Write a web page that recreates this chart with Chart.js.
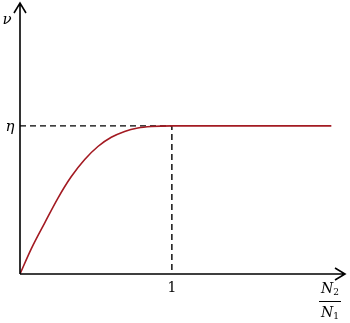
<!DOCTYPE html>
<html>
<head>
<meta charset="utf-8">
<script src="https://cdn.jsdelivr.net/npm/chart.js@4"></script>
<style>
  html, body { margin: 0; padding: 0; background: #fff; }
  #wrap { width: 350px; height: 323px; }
</style>
</head>
<body>
<div id="wrap"><canvas id="curveChart"></canvas></div>
<script>
// values (x in units of N2/N1, y in units of eta)
const curveX = [0, 0.074, 0.163, 0.25, 0.338, 0.426, 0.513, 0.601, 0.689, 0.776, 0.864, 1.0, 2.05];
const curveY = [0, 0.170, 0.346, 0.513, 0.658, 0.773, 0.861, 0.923, 0.963, 0.986, 0.996, 1.0, 1.0];
const guideX = [0, 1, 1];
const guideY = [1, 1, 0];
const xMax = 2.14;
const yMax = 1.83;
const xTickLabel = '1';
const yTickLabel = 'η';

const toPoints = (xs, ys) => xs.map((x, i) => ({ x: x, y: ys[i] }));

const axesPlugin = {
    id: 'arrowAxes',
    afterDatasetsDraw(chart) {
        const ctx = chart.ctx;
        const xs = chart.scales.x, ys = chart.scales.y;
        const x0 = xs.getPixelForValue(0), y0 = ys.getPixelForValue(0);
        const xEnd = xs.getPixelForValue(xMax), yEnd = ys.getPixelForValue(yMax);
        ctx.save();
        ctx.strokeStyle = '#000';
        ctx.lineWidth = 1.6;
        ctx.beginPath();
        ctx.moveTo(x0, y0); ctx.lineTo(x0, yEnd);
        ctx.moveTo(x0, y0); ctx.lineTo(xEnd, y0);
        // arrow heads
        ctx.moveTo(x0 - 6, yEnd + 10); ctx.lineTo(x0, yEnd); ctx.lineTo(x0 + 6, yEnd + 10);
        ctx.moveTo(xEnd - 10, y0 - 6); ctx.lineTo(xEnd, y0); ctx.lineTo(xEnd - 10, y0 + 6);
        ctx.stroke();

        ctx.fillStyle = '#000';
        ctx.textAlign = 'center';
        ctx.textBaseline = 'middle';
        ctx.font = '14px "DejaVu Serif", serif';
        ctx.fillText(xTickLabel, xs.getPixelForValue(1), y0 + 14);
        ctx.font = 'italic 15px "DejaVu Serif", serif';
        ctx.fillText(yTickLabel, x0 - 10, ys.getPixelForValue(1) + 1);
        ctx.fillText('ν', x0 - 13, 20);

        // N2 / N1 fraction
        const fx = 330;
        ctx.font = 'italic 14px "DejaVu Serif", serif';
        ctx.fillText('N', fx - 3, y0 + 15);
        ctx.fillText('N', fx - 3, y0 + 39);
        ctx.font = '9px "DejaVu Serif", serif';
        ctx.fillText('2', fx + 6, y0 + 19);
        ctx.fillText('1', fx + 6, y0 + 43);
        ctx.lineWidth = 1;
        ctx.beginPath();
        ctx.moveTo(fx - 11, y0 + 27.5); ctx.lineTo(fx + 11, y0 + 27.5);
        ctx.stroke();
        ctx.restore();
    }
};

new Chart(document.getElementById('curveChart').getContext('2d'), {
    type: 'line',
    data: {
        datasets: [{
            data: toPoints(curveX, curveY),
            borderColor: '#a31a22',
            borderWidth: 1.6,
            pointRadius: 0,
            cubicInterpolationMode: 'monotone',
            fill: false
        }, {
            data: toPoints(guideX, guideY),
            borderColor: '#000',
            borderWidth: 1.4,
            borderDash: [6, 4],
            pointRadius: 0,
            tension: 0,
            fill: false
        }]
    },
    options: {
        responsive: true,
        maintainAspectRatio: false,
        animation: false,
        layout: { padding: { left: 20, right: 5, top: 3, bottom: 49 } },
        scales: {
            x: { type: 'linear', min: 0, max: xMax, display: false },
            y: { type: 'linear', min: 0, max: yMax, display: false }
        },
        plugins: {
            legend: { display: false },
            tooltip: { enabled: false }
        }
    },
    plugins: [axesPlugin]
});
</script>
</body>
</html>
